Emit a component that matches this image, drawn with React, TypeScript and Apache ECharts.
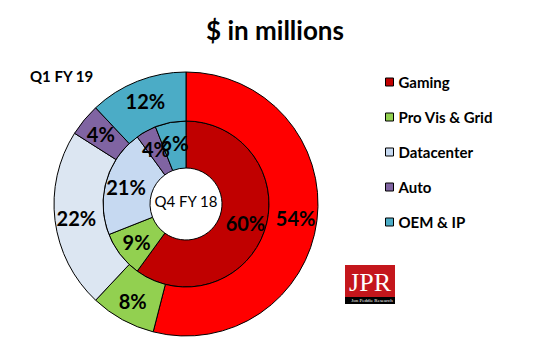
import React, { useEffect, useRef } from "react";
import * as echarts from "echarts";

const categories = ["Gaming", "Pro Vis & Grid", "Datacenter", "Auto", "OEM & IP"];
const innerValues = [60, 9, 21, 4, 6]; // Q4 FY 18
const outerValues = [54, 8, 22, 4, 12]; // Q1 FY 19
const innerColors = ["#C00000", "#92D050", "#C6D9F1", "#8064A2", "#4BACC6"];
const outerColors = ["#FF0000", "#92D050", "#DCE6F2", "#8064A2", "#4BACC6"];
const title = "$ in millions";
const innerName = "Q4 FY 18";
const outerName = "Q1 FY 19";

const FONT = "Lato, 'Open Sans', sans-serif";

export default function App() {
  const ref = useRef<HTMLDivElement>(null);
  useEffect(() => {
    if (!ref.current) return;
    const chart = echarts.init(ref.current, undefined, { renderer: "svg" });
    const label = {
      show: true,
      position: "inside",
      formatter: "{c}%",
      fontFamily: FONT,
      fontWeight: "bold",
      fontSize: 20,
      color: "#000",
    };
    chart.setOption({
      animation: false,
      backgroundColor: "#fff",
      title: {
        text: title,
        left: "center",
        top: 12,
        textStyle: { fontFamily: FONT, fontWeight: "bold", fontSize: 26, color: "#000" },
      },
      legend: {
        orient: "vertical",
        left: 385,
        top: 74.5,
        padding: 0,
        itemWidth: 8,
        itemHeight: 8,
        itemGap: 20,
        icon: "rect",
        selectedMode: false,
        data: categories,
        textStyle: { fontFamily: FONT, fontWeight: "bold", fontSize: 15, lineHeight: 15, color: "#000" },
        itemStyle: { borderColor: "#000", borderWidth: 1 },
      },
      series: [
        {
          name: innerName,
          type: "pie",
          center: [186, 204],
          radius: [36, 83],
          startAngle: 90,
          clockwise: true,
          silent: true,
          avoidLabelOverlap: false,
          labelLayout: { hideOverlap: false },
          label,
          labelLine: { show: false },
          itemStyle: { borderColor: "#000", borderWidth: 1 },
          data: categories.map((c, i) => ({ name: c, value: innerValues[i], itemStyle: { color: innerColors[i] } })),
        },
        {
          name: outerName,
          type: "pie",
          center: [186, 204],
          radius: [83, 132],
          startAngle: 90,
          clockwise: true,
          silent: true,
          avoidLabelOverlap: false,
          labelLayout: { hideOverlap: false },
          label,
          labelLine: { show: false },
          itemStyle: { borderColor: "#000", borderWidth: 1 },
          data: categories.map((c, i) => ({ name: c, value: outerValues[i], itemStyle: { color: outerColors[i] } })),
        },
      ],
      graphic: [
        {
          type: "text",
          left: 30,
          top: 68,
          style: { text: outerName, fontFamily: FONT, fontWeight: "bold", fontSize: 15, fill: "#000" },
        },
        {
          type: "text",
          x: 186,
          y: 201,
          style: {
            text: innerName,
            fontFamily: FONT,
            fontSize: 15,
            fill: "#000",
            align: "center",
            verticalAlign: "middle",
          },
        },
        {
          type: "group",
          left: 345,
          top: 265,
          children: [
            { type: "rect", shape: { x: 0, y: 0, width: 50, height: 39 }, style: { fill: "#C4161C" } },
            { type: "rect", shape: { x: 0, y: 32, width: 50, height: 7 }, style: { fill: "#000" } },
            {
              type: "text",
              x: 25,
              y: 17,
              style: {
                text: "JPR",
                fontFamily: "'Liberation Serif', serif",
                fontSize: 26,
                fill: "#fff",
                align: "center",
                verticalAlign: "middle",
              },
            },
            {
              type: "text",
              x: 27,
              y: 35.5,
              style: {
                text: "Jon Peddie Research",
                fontFamily: "'Liberation Serif', serif",
                fontSize: 5,
                fill: "#fff",
                align: "center",
                verticalAlign: "middle",
              },
            },
          ],
        },
      ],
    });
    return () => chart.dispose();
  }, []);
  return <div ref={ref} style={{ position: "absolute", left: 0, top: 0, width: 550, height: 361 }} />;
}
